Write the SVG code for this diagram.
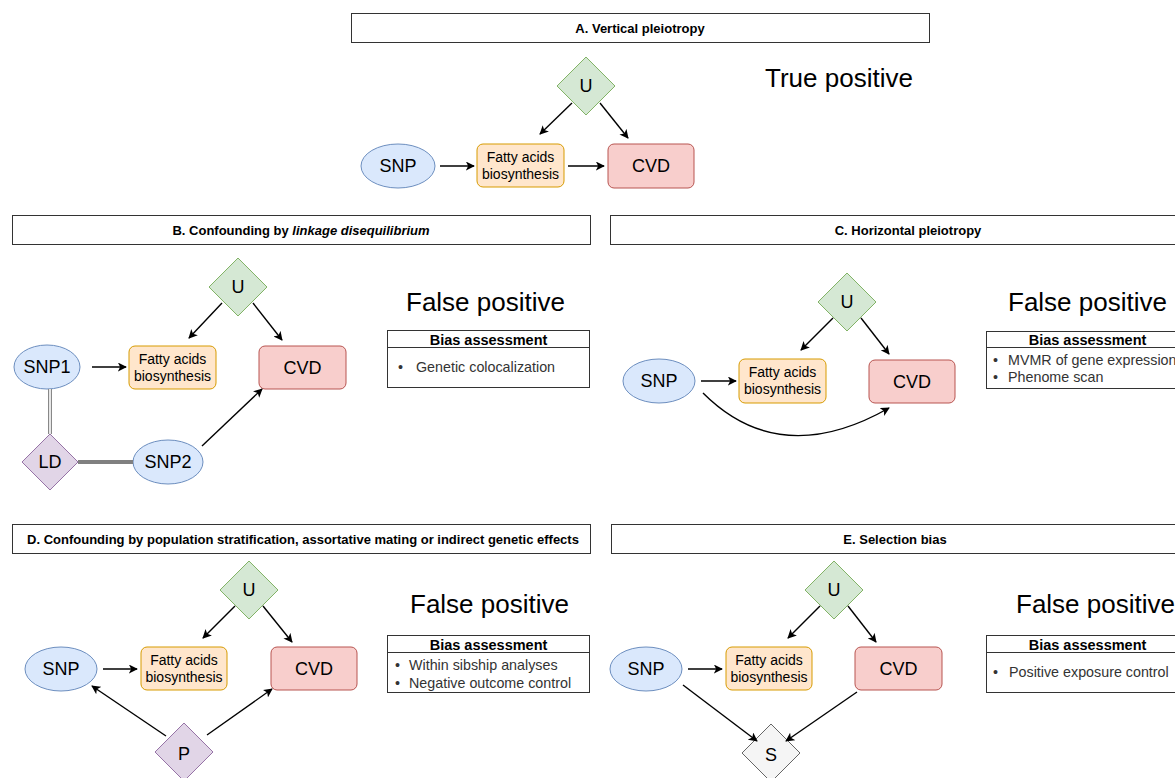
<svg xmlns="http://www.w3.org/2000/svg" width="1175" height="778" viewBox="0 0 1175 778">
<style>
text{font-family:"Liberation Sans",Arial,sans-serif;fill:#000}
.hdr{fill:#fff;stroke:#333;stroke-width:1}
.ht{font-size:13px;font-weight:bold;text-anchor:middle}
.snp{fill:#dae8fc;stroke:#6c8ebf;stroke-width:1}
.fa{fill:#ffe6cc;stroke:#d79b00;stroke-width:1}
.cvd{fill:#f8cecc;stroke:#b85450;stroke-width:1}
.u{fill:#d5e8d4;stroke:#82b366;stroke-width:1}
.p{fill:#e1d5e7;stroke:#9673a6;stroke-width:1}
.s{fill:#f5f5f5;stroke:#666;stroke-width:1}
.nt{font-size:18px;text-anchor:middle}
.ft{font-size:14px;text-anchor:middle}
.big{font-size:26px}
.tb{fill:#fff;stroke:#333;stroke-width:1}
.tbh{font-size:14.5px;font-weight:bold;text-anchor:middle}
.bl{font-size:14.3px;fill:#333}
.ar{fill:none;stroke:#000;stroke-width:1.4;marker-end:url(#ah)}
</style>
<defs>
<marker id="ah" viewBox="0 0 10 10" refX="9" refY="5" markerWidth="9" markerHeight="9" markerUnits="userSpaceOnUse" orient="auto">
<path d="M0,0 L10,5 L0,10 L2.5,5 z" fill="#000"/>
</marker>
</defs>
<rect width="1175" height="778" fill="#fff"/>

<!-- Section A -->
<g id="hdrA"><rect class="hdr" x="351.5" y="13.5" width="578" height="29"/><text class="ht" x="640" y="32.5">A. Vertical pleiotropy</text></g>
<g id="A_U"><polygon class="u" points="586,57 615,86 586,115 557,86"/><text class="nt" x="586" y="92">U</text></g>
<g id="A_SNP"><ellipse class="snp" cx="398" cy="166" rx="37" ry="22"/><text class="nt" x="398" y="172">SNP</text></g>
<g id="A_FA"><rect class="fa" x="477" y="144" width="87" height="43" rx="6"/><text class="ft" x="520.5" y="162">Fatty acids</text><text class="ft" x="520.5" y="179">biosynthesis</text></g>
<g id="A_CVD"><rect class="cvd" x="608" y="144" width="86" height="44" rx="6"/><text class="nt" x="651" y="172">CVD</text></g>
<text id="A_res" class="big" x="765" y="87">True positive</text>

<!-- Section B -->
<g id="hdrB"><rect class="hdr" x="12.5" y="215.5" width="578" height="29"/><text class="ht" x="301" y="234.5">B. Confounding by <tspan font-style="italic">linkage disequilibrium</tspan></text></g>
<g id="B_U"><polygon class="u" points="238,258 267,287 238,316 209,287"/><text class="nt" x="238" y="293">U</text></g>
<g id="B_SNP1"><ellipse class="snp" cx="47" cy="367" rx="33" ry="22"/><text class="nt" x="47" y="373">SNP1</text></g>
<g id="B_FA"><rect class="fa" x="129" y="346" width="87" height="43" rx="6"/><text class="ft" x="172.5" y="364">Fatty acids</text><text class="ft" x="172.5" y="381">biosynthesis</text></g>
<g id="B_CVD"><rect class="cvd" x="259" y="346" width="87" height="43" rx="6"/><text class="nt" x="302.5" y="374">CVD</text></g>
<g id="B_LD"><polygon class="p" points="50,434 78,462 50,490 22,462"/><text class="nt" x="50" y="468">LD</text></g>
<g id="B_SNP2"><ellipse class="snp" cx="168" cy="462" rx="35" ry="22"/><text class="nt" x="168" y="468">SNP2</text></g>
<text id="B_res" class="big" x="406" y="311">False positive</text>
<g id="B_tab"><rect class="tb" x="387.5" y="330.5" width="202" height="57"/><line x1="387.5" y1="347.5" x2="589.5" y2="347.5" stroke="#333"/><text class="tbh" x="488.5" y="345">Bias assessment</text><text class="bl" x="398" y="372">•</text><text class="bl" x="416" y="372">Genetic colocalization</text></g>

<!-- Section C -->
<g id="hdrC"><rect class="hdr" x="610.5" y="215.5" width="596" height="29"/><text class="ht" x="908" y="234.5">C. Horizontal pleiotropy</text></g>
<g id="C_U"><polygon class="u" points="847,273 876,302 847,331 818,302"/><text class="nt" x="847" y="308">U</text></g>
<g id="C_SNP"><ellipse class="snp" cx="659" cy="381" rx="36" ry="22"/><text class="nt" x="659" y="387">SNP</text></g>
<g id="C_FA"><rect class="fa" x="739" y="359" width="87" height="44" rx="6"/><text class="ft" x="782.5" y="377">Fatty acids</text><text class="ft" x="782.5" y="394">biosynthesis</text></g>
<g id="C_CVD"><rect class="cvd" x="869" y="360" width="86" height="43" rx="6"/><text class="nt" x="912" y="388">CVD</text></g>
<text id="C_res" class="big" x="1008" y="311">False positive</text>
<g id="C_tab"><rect class="tb" x="986.5" y="331.5" width="202" height="57"/><line x1="986.5" y1="347.5" x2="1188.5" y2="347.5" stroke="#333"/><text class="tbh" x="1087.5" y="345">Bias assessment</text><text class="bl" x="993" y="365">•</text><text class="bl" x="1008" y="365">MVMR of gene expression</text><text class="bl" x="993" y="382">•</text><text class="bl" x="1008" y="382">Phenome scan</text></g>

<!-- Section D -->
<g id="hdrD"><rect class="hdr" x="12.5" y="524.5" width="578" height="29"/><text class="ht" x="303" y="543.5">D. Confounding by population stratification, assortative mating or indirect genetic effects</text></g>
<g id="D_U"><polygon class="u" points="249,561 278,590 249,619 220,590"/><text class="nt" x="249" y="596">U</text></g>
<g id="D_SNP"><ellipse class="snp" cx="61" cy="669" rx="36" ry="22"/><text class="nt" x="61" y="675">SNP</text></g>
<g id="D_FA"><rect class="fa" x="141" y="647" width="86" height="43" rx="6"/><text class="ft" x="184" y="665">Fatty acids</text><text class="ft" x="184" y="682">biosynthesis</text></g>
<g id="D_CVD"><rect class="cvd" x="271" y="647" width="86" height="43" rx="6"/><text class="nt" x="314" y="675">CVD</text></g>
<g id="D_P"><polygon class="p" points="184,723 213,752 184,781 155,752"/><text class="nt" x="184" y="760">P</text></g>
<text id="D_res" class="big" x="410" y="613">False positive</text>
<g id="D_tab"><rect class="tb" x="387.5" y="635.5" width="202" height="57"/><line x1="387.5" y1="652.5" x2="589.5" y2="652.5" stroke="#333"/><text class="tbh" x="488.5" y="650">Bias assessment</text><text class="bl" x="395" y="670">•</text><text class="bl" x="409" y="670">Within sibship analyses</text><text class="bl" x="395" y="688">•</text><text class="bl" x="409" y="688">Negative outcome control</text></g>

<!-- Section E -->
<g id="hdrE"><rect class="hdr" x="611.5" y="524.5" width="568" height="29"/><text class="ht" x="895" y="543.5">E. Selection bias</text></g>
<g id="E_U"><polygon class="u" points="834,561 863,590 834,619 805,590"/><text class="nt" x="834" y="596">U</text></g>
<g id="E_SNP"><ellipse class="snp" cx="646" cy="669" rx="36" ry="22"/><text class="nt" x="646" y="675">SNP</text></g>
<g id="E_FA"><rect class="fa" x="726" y="647" width="86" height="43" rx="6"/><text class="ft" x="769" y="665">Fatty acids</text><text class="ft" x="769" y="682">biosynthesis</text></g>
<g id="E_CVD"><rect class="cvd" x="855" y="647" width="87" height="43" rx="6"/><text class="nt" x="898.5" y="675">CVD</text></g>
<g id="E_S"><polygon class="s" points="771,724 800,753 771,782 742,753"/><text class="nt" x="771" y="761">S</text></g>
<text id="E_res" class="big" x="1016" y="613">False positive</text>
<g id="E_tab"><rect class="tb" x="986.5" y="635.5" width="202" height="57"/><line x1="986.5" y1="652.5" x2="1188.5" y2="652.5" stroke="#333"/><text class="tbh" x="1087.5" y="650">Bias assessment</text><text class="bl" x="993" y="677">•</text><text class="bl" x="1009" y="677">Positive exposure control</text></g>

<!-- Connectors -->
<g id="connectors">
<line class="ar" x1="440" y1="166" x2="474" y2="166"/>
<line class="ar" x1="568" y1="166" x2="604" y2="166"/>
<line class="ar" x1="572" y1="103" x2="540" y2="134"/>
<line class="ar" x1="600" y1="103" x2="628" y2="138"/>

<line class="ar" x1="92" y1="367" x2="126" y2="367"/>
<line class="ar" x1="222" y1="303" x2="189" y2="338"/>
<line class="ar" x1="253" y1="303" x2="282" y2="340"/>
<line class="ar" x1="202" y1="446" x2="262" y2="389"/>
<line x1="50" y1="389" x2="50" y2="434" stroke="#888" stroke-width="4"/>
<line x1="50" y1="389" x2="50" y2="434" stroke="#fff" stroke-width="1.6"/>
<line x1="78" y1="462" x2="133" y2="462" stroke="#808080" stroke-width="4"/>

<line class="ar" x1="701" y1="381" x2="736" y2="381"/>
<line class="ar" x1="833" y1="318" x2="801" y2="350"/>
<line class="ar" x1="861" y1="318" x2="889" y2="354"/>
<path class="ar" d="M703,393 Q780,470 889,408"/>

<line class="ar" x1="103" y1="669" x2="137" y2="669"/>
<line class="ar" x1="235" y1="606" x2="203" y2="638"/>
<line class="ar" x1="263" y1="606" x2="292" y2="642"/>
<line class="ar" x1="166" y1="736" x2="92" y2="686"/>
<line class="ar" x1="207" y1="735" x2="272" y2="689"/>

<line class="ar" x1="688" y1="669" x2="722" y2="669"/>
<line class="ar" x1="820" y1="606" x2="788" y2="638"/>
<line class="ar" x1="848" y1="606" x2="876" y2="642"/>
<line class="ar" x1="683" y1="685" x2="757" y2="741"/>
<line class="ar" x1="857" y1="692" x2="786" y2="741"/>
</g>
</svg>
